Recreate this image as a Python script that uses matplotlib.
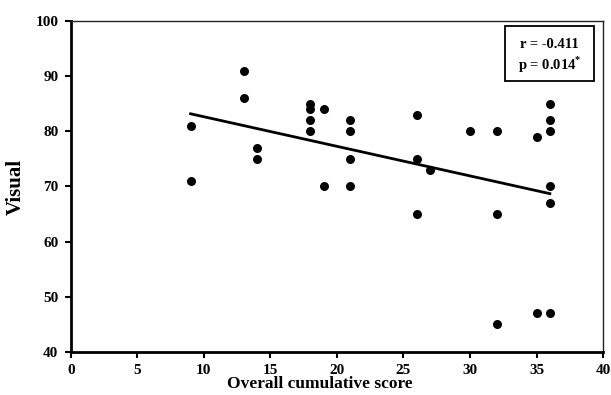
import numpy as np
import matplotlib
matplotlib.use("Agg")
import matplotlib.pyplot as plt
from matplotlib.patches import Rectangle

score = [9, 9, 13, 13, 14, 14, 18, 18, 18, 18, 19, 19, 21, 21, 21, 21,
         26, 26, 26, 27, 30, 32, 32, 32, 35, 35, 36, 36, 36, 36, 36, 36]
visual = [81, 71, 91, 86, 77, 75, 85, 84, 82, 80, 84, 70, 82, 80, 75, 70,
          83, 75, 65, 73, 80, 80, 65, 45, 79, 47, 85, 82, 80, 70, 67, 47]
xticks = [0, 5, 10, 15, 20, 25, 30, 35, 40]
yticks = [40, 50, 60, 70, 80, 90, 100]
stats_text = "r = -0.411\np = 0.014$^{*}$"

plt.rcParams['font.family'] = ['Liberation Serif', 'DejaVu Serif']
plt.rcParams['font.weight'] = 'bold'
plt.rcParams['mathtext.fontset'] = 'custom'
plt.rcParams['mathtext.rm'] = 'Liberation Serif:bold'

fig = plt.figure(figsize=(6.11, 3.95), dpi=100)
ax = fig.add_axes([0.116, 0.109, 0.871, 0.838])

ax.scatter(score, visual, s=42, color='black', zorder=3, linewidths=0)

x = np.array(score, dtype=float)
y = np.array(visual, dtype=float)
m, b = np.polyfit(x, y, 1)
xl = np.array([x.min(), x.max()])
ax.plot(xl, m * xl + b, color='black', lw=2)

ax.set_xlim(0, 40)
ax.set_ylim(40, 100)
ax.set_xticks(xticks)
ax.set_yticks(yticks)
ax.tick_params(direction='out', length=4, width=1.5, labelsize=11, pad=5)
for lab in ax.get_xticklabels() + ax.get_yticklabels():
    lab.set_fontweight('bold')

for s in ['left', 'bottom']:
    ax.spines[s].set_linewidth(2)
for s in ['top', 'right']:
    ax.spines[s].set_linewidth(1)
    ax.spines[s].set_color('#222222')

ax.set_xlabel('Overall cumulative score', fontsize=12.5, fontweight='bold',
              labelpad=-1, x=0.468)
ax.set_ylabel('Visual', fontsize=15, fontweight='bold', labelpad=7)

box = Rectangle((0.816, 0.819), 0.167, 0.166, transform=ax.transAxes,
                facecolor='white', edgecolor='black', lw=1.3, zorder=4)
ax.add_patch(box)
ax.text(0.8995, 0.893, stats_text, transform=ax.transAxes, ha='center', va='center',
        multialignment='center', fontsize=10.5, fontweight='bold', linespacing=1.2,
        zorder=5)

fig.savefig('out.png', dpi=100)
